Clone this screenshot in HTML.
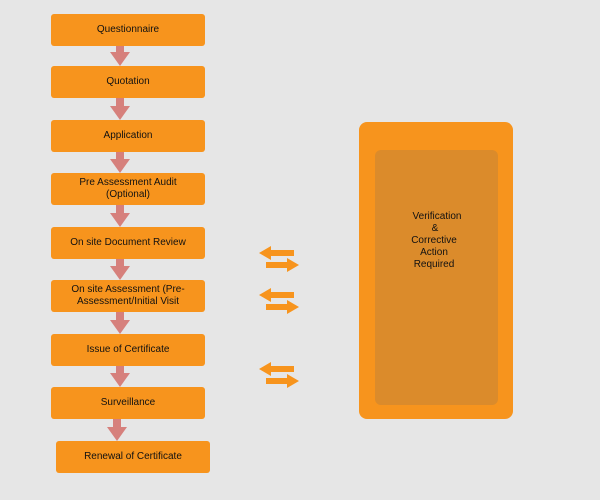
<!DOCTYPE html>
<html><head><style>
body{margin:0;width:600px;height:500px;background:#e6e6e6;position:relative;overflow:hidden;font-family:"Liberation Sans",sans-serif;}
.b{position:absolute;left:51px;width:154px;height:32px;background:#f7941d;border-radius:3px;display:flex;align-items:center;justify-content:center;text-align:center;font-size:10px;line-height:12px;color:#111;}
svg{position:absolute;left:0;top:0}
</style></head><body>
<svg width="600" height="500">
<g fill="#d6807c">
<path d="M116 46h8v6h6l-10 14l-10-14h6z"/>
<path d="M116 98h8v8h6l-10 14l-10-14h6z"/>
<path d="M116 152h8v7h6l-10 14l-10-14h6z"/>
<path d="M116 205h8v8h6l-10 14l-10-14h6z"/>
<path d="M116 259h8v7h6l-10 14l-10-14h6z"/>
<path d="M116 312h8v8h6l-10 14l-10-14h6z"/>
<path d="M116 366h8v7h6l-10 14l-10-14h6z"/>
<path d="M113 419h8v8h6l-10 14l-10-14h6z"/>
</g>
<g fill="#f7941d">
<path d="M259 253l12-7v4h23v6h-23v4z"/><path d="M299 265l-12-7v4h-21v6h21v4z"/>
<path d="M259 295l12-7v4h23v6h-23v4z"/><path d="M299 307l-12-7v4h-21v6h21v4z"/>
<path d="M259 369l12-7v4h23v6h-23v4z"/><path d="M299 381l-12-7v4h-21v6h21v4z"/>
</g>
<rect x="359" y="122" width="154" height="297" rx="8" fill="#f7941d"/>
<rect x="375" y="150" width="123" height="255" rx="6" fill="#db8b2b"/>
<text font-family="Liberation Sans" font-size="10" fill="#111" text-anchor="middle">
<tspan x="437" y="219">Verification</tspan><tspan x="435" y="231">&amp;</tspan><tspan x="434" y="243">Corrective</tspan><tspan x="434" y="255">Action</tspan><tspan x="434" y="267">Required</tspan>
</text>
</svg>
<div class="b" style="top:14px">Questionnaire</div>
<div class="b" style="top:66px">Quotation</div>
<div class="b" style="top:120px">Application</div>
<div class="b" style="top:173px">Pre Assessment Audit<br>(Optional)</div>
<div class="b" style="top:227px">On site Document Review</div>
<div class="b" style="top:280px">On site Assessment (Pre-<br>Assessment/Initial Visit</div>
<div class="b" style="top:334px">Issue of Certificate</div>
<div class="b" style="top:387px">Surveillance</div>
<div class="b" style="top:441px;left:56px">Renewal of Certificate</div>
</body></html>
